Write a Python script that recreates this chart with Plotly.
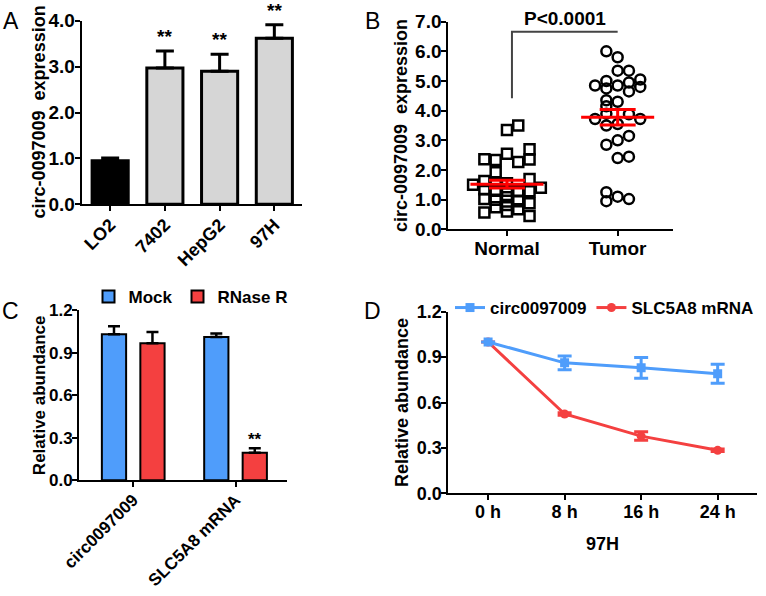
import plotly.graph_objects as go

# ---------------- data ----------------
# Panel A
a_cats = ["LO2", "7402", "HepG2", "97H"]
a_vals = [0.95, 2.97, 2.90, 3.62]
a_err = [0.06, 0.37, 0.37, 0.29]
a_sig = ["", "**", "**", "**"]
a_ytitle = "circ-0097009  expression"

# Panel B (value, jitter column)
b_groups = ["Normal", "Tumor"]
b_normal_vals = [1.50,
                 2.36, 1.63, 1.35, 1.02, 0.57,
                 2.34, 1.92, 1.57, 1.30, 1.00, 0.74,
                 3.35, 2.55, 1.55, 1.30, 1.08, 0.82, 0.60,
                 3.50, 2.27, 1.30, 0.95, 0.68,
                 2.70, 2.35, 1.70, 1.28, 0.88, 0.45,
                 1.40]
b_normal_cols = [-3,
                 -2, -2, -2, -2, -2,
                 -1, -1, -1, -1, -1, -1,
                 0, 0, 0, 0, 0, 0, 0,
                 1, 1, 1, 1, 1,
                 2, 2, 2, 2, 2, 2,
                 3]
b_tumor_vals = [4.85, 3.72,
                6.00, 5.00, 4.75, 4.35, 4.15, 3.90, 3.50, 2.85, 1.25, 0.95,
                5.80, 5.35, 4.85, 4.30, 3.55, 3.00, 2.40, 1.10,
                5.35, 4.95, 4.65, 3.88, 3.15, 2.45, 1.02,
                5.05, 4.80, 3.72]
b_tumor_cols = [-2, -2,
                -1, -1, -1, -1, -1, -1, -1, -1, -1, -1,
                0, 0, 0, 0, 0, 0, 0, 0,
                1, 1, 1, 1, 1, 1, 1,
                2, 2, 2]
b_means = [1.52, 3.78]
b_sems = [0.13, 0.26]
b_bracket = [4.42, 6.66]
b_pval = "P<0.0001"

# Panel C
c_cats = ["circ0097009", "SLC5A8 mRNA"]
c_mock = [1.03, 1.01]
c_mock_err = [0.055, 0.024]
c_rnase = [0.965, 0.195]
c_rnase_err = [0.08, 0.03]
c_sig = ["", "**"]
c_ytitle = "Relative abundance"

# Panel D
d_times = ["0 h", "8 h", "16 h", "24 h"]
d_circ = [1.0, 0.862, 0.829, 0.79]
d_circ_err = [0.0, 0.045, 0.068, 0.063]
d_slc = [1.0, 0.524, 0.378, 0.284]
d_slc_err = [0.0, 0.008, 0.028, 0.008]

# ---------------- style ----------------
F = "Arial, 'Liberation Sans', sans-serif"
W, H = 766, 596
BLUE = "#4f9dfb"
RED = "#f44040"
GREY = "#d6d6d6"


def px_x(a, b):
    return [a / W, b / W]


def px_y(top, bottom):
    return [1 - bottom / H, 1 - top / H]


def axis(size, **kw):
    d = dict(showline=True, linecolor="black", linewidth=2, ticks="outside",
             ticklen=5, tickwidth=2, tickcolor="black", showgrid=False,
             zeroline=False, automargin=False, ticklabelstandoff=-4,
             tickfont=dict(family=F, size=size, color="black", weight="bold"))
    d.update(kw)
    return d


fig = go.Figure()

# ---- Panel A ----
fig.add_trace(go.Bar(
    x=a_cats, y=a_vals, width=0.66,
    marker=dict(color=["black"] + [GREY] * 3, line=dict(color="black", width=3)),
    error_y=dict(type="data", array=a_err, arrayminus=[0] * 4, symmetric=False,
                 color="black", thickness=3, width=9),
    xaxis="x", yaxis="y", showlegend=False))

# ---- Panel B ----
step = 0.102
fig.add_trace(go.Scatter(
    x=[0 + c * step for c in b_normal_cols], y=b_normal_vals, mode="markers",
    marker=dict(symbol="square-open", size=10, color="black", line=dict(width=2.5)),
    xaxis="x2", yaxis="y2", showlegend=False))
fig.add_trace(go.Scatter(
    x=[1 + c * step for c in b_tumor_cols], y=b_tumor_vals, mode="markers",
    marker=dict(symbol="circle-open", size=10, color="black", line=dict(width=2.5)),
    xaxis="x2", yaxis="y2", showlegend=False))
for g, (m, s) in enumerate(zip(b_means, b_sems)):
    fig.add_trace(go.Scatter(
        x=[g - 0.33, g + 0.33], y=[m, m], mode="lines",
        line=dict(color="red", width=3), xaxis="x2", yaxis="y2", showlegend=False))
    fig.add_trace(go.Scatter(
        x=[g], y=[m], mode="markers", marker=dict(size=1, color="red"),
        error_y=dict(type="data", array=[s], color="red", thickness=3, width=18),
        xaxis="x2", yaxis="y2", showlegend=False))
fig.add_shape(type="path", xref="x2", yref="y2",
              path=f"M 0.045,{b_bracket[0]} L 0.045,{b_bracket[1]} L 1.0,{b_bracket[1]}",
              line=dict(color="#444444", width=2))
fig.add_annotation(x=0.52, y=b_bracket[1], xref="x2", yref="y2", text=b_pval,
                   showarrow=False, yanchor="bottom", yshift=1,
                   font=dict(family=F, size=19, color="black", weight="bold"))

# ---- Panel C ----
off, bw = 0.188, 0.237
fig.add_trace(go.Bar(
    x=[i - off for i in range(len(c_cats))], y=c_mock, width=bw, name="Mock",
    marker=dict(color=BLUE, line=dict(color="black", width=2)),
    error_y=dict(type="data", array=c_mock_err, arrayminus=[0, 0], symmetric=False,
                 color="black", thickness=2.5, width=6),
    xaxis="x3", yaxis="y3", legend="legend"))
fig.add_trace(go.Bar(
    x=[i + off for i in range(len(c_cats))], y=c_rnase, width=bw, name="RNase R",
    marker=dict(color=RED, line=dict(color="black", width=2)),
    error_y=dict(type="data", array=c_rnase_err, arrayminus=[0, 0], symmetric=False,
                 color="black", thickness=2.5, width=6),
    xaxis="x3", yaxis="y3", legend="legend"))

# ---- Panel D ----
fig.add_trace(go.Scatter(
    x=d_times, y=d_slc, mode="lines+markers", name="SLC5A8 mRNA",
    line=dict(color=RED, width=3), marker=dict(symbol="circle", size=9, color=RED),
    error_y=dict(type="data", array=d_slc_err, color=RED, thickness=3, width=7),
    xaxis="x4", yaxis="y4", legend="legend2", legendrank=2))
fig.add_trace(go.Scatter(
    x=d_times, y=d_circ, mode="lines+markers", name="circ0097009",
    line=dict(color=BLUE, width=3), marker=dict(symbol="square", size=9, color=BLUE),
    error_y=dict(type="data", array=d_circ_err, color=BLUE, thickness=3, width=7),
    xaxis="x4", yaxis="y4", legend="legend2", legendrank=1))

# ---------------- annotations ----------------
for i, (v, e, s) in enumerate(zip(a_vals, a_err, a_sig)):
    if s:
        fig.add_annotation(x=i, y=v + e, xref="x", yref="y", text=s, showarrow=False,
                           yanchor="bottom", yshift=2,
                           font=dict(family=F, size=19, color="black", weight="bold"))
for i, (v, e, s) in enumerate(zip(c_rnase, c_rnase_err, c_sig)):
    if s:
        fig.add_annotation(x=i + off, y=v + e, xref="x3", yref="y3", text=s,
                           showarrow=False, yanchor="bottom", yshift=-3,
                           font=dict(family=F, size=17, color="black", weight="bold"))

for lab, (cx, cy) in zip("ABCD", [(11, 21), (372, 21), (10, 311), (372, 311)]):
    fig.add_annotation(x=cx / W, y=1 - cy / H, xref="paper", yref="paper", text=lab,
                       showarrow=False, xanchor="center", yanchor="middle",
                       font=dict(family=F, size=23, color="black"))

# y-axis titles for panels A and C (placed beside their axes)
for txt, ya, cx, size in [(a_ytitle, "y", 38, 18), (c_ytitle, "y3", 39, 17)]:
    fig.add_annotation(x=cx / W, y=0.5, xref="paper", yref=f"{ya} domain", text=txt,
                       textangle=-90, showarrow=False, xanchor="center",
                       yanchor="middle",
                       font=dict(family=F, size=size, color="black", weight="bold"))

title_font = dict(family=F, size=18, color="black", weight="bold")

fig.update_layout(
    template="none",
    width=W, height=H, margin=dict(l=0, r=0, t=0, b=0, autoexpand=False),
    paper_bgcolor="white", plot_bgcolor="white",
    barmode="overlay",
    # Panel A
    xaxis=axis(18, type="category", domain=px_x(81.7, 301.7), anchor="y",
               range=[-0.52, 3.5], tickangle=-45),
    yaxis=axis(19, domain=px_y(20.7, 204.3), anchor="x", range=[0, 4.0],
               tickvals=[0, 1, 2, 3, 4], tickformat=".1f"),
    # Panel B
    xaxis2=axis(19, domain=px_x(448.3, 673), anchor="y2", range=[-0.53, 1.5],
                tickvals=[0, 1], ticktext=b_groups),
    yaxis2=axis(19, domain=px_y(21.7, 229.3), anchor="x2", range=[0, 7.0],
                tickvals=list(range(8)), tickformat=".1f",
                title=dict(text="circ-0097009  expression", font=title_font, standoff=3)),
    # Panel C
    xaxis3=axis(17, domain=px_x(79, 286.7), anchor="y3", range=[-0.53, 1.5],
                tickvals=[0, 1], ticktext=c_cats, tickangle=-45),
    yaxis3=axis(17, domain=px_y(310, 480.3), anchor="x3", range=[0, 1.2],
                tickvals=[0, 0.3, 0.6, 0.9, 1.2], tickformat=".1f"),
    # Panel D
    xaxis4=axis(18, type="category", domain=px_x(448.3, 756.7), anchor="y4",
                range=[-0.52, 3.51],
                title=dict(text="97H", font=title_font, standoff=16)),
    yaxis4=axis(18, domain=px_y(311.7, 493.3), anchor="x4", range=[0, 1.2],
                tickvals=[0, 0.3, 0.6, 0.9, 1.2], tickformat=".1f",
                title=dict(text="Relative abundance", font=title_font, standoff=3)),
    legend=dict(orientation="h", x=88.5 / W, y=1 - 297 / H, xanchor="left",
                yanchor="middle", bgcolor="rgba(0,0,0,0)",
                font=dict(family=F, size=17, color="black", weight="bold")),
    legend2=dict(orientation="h", x=450 / W, y=1 - 308 / H, xanchor="left",
                 yanchor="middle", bgcolor="rgba(0,0,0,0)",
                 font=dict(family=F, size=17, color="black", weight="bold")),
)

fig.write_html("out.html", config={"displayModeBar": False},
               post_script="document.body.style.margin='0';"
                           "document.body.style.overflow='hidden';")
